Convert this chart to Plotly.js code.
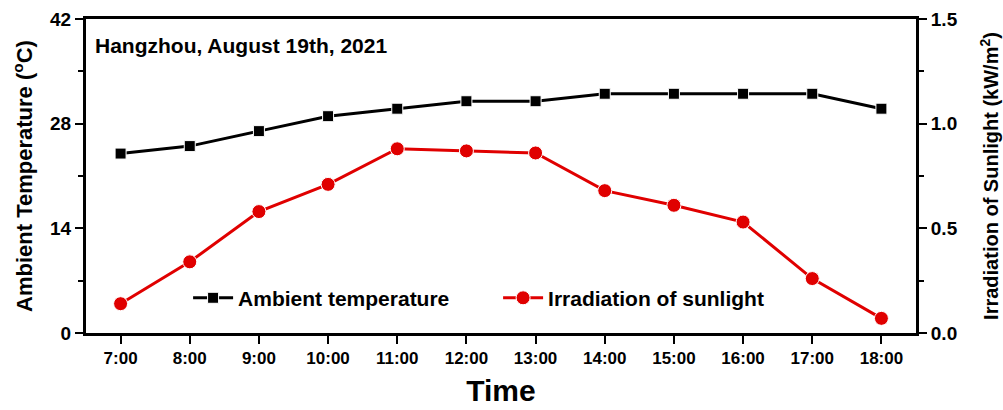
<!DOCTYPE html>
<html>
<head>
<meta charset="utf-8">
<script src="https://cdn.plot.ly/plotly-3.0.1.min.js"></script>
<style>html,body{margin:0;padding:0;background:#fff;}#chart{width:1003px;height:410px;}</style>
</head>
<body>
<div id="chart"></div>
<script>
const times = ["7:00","8:00","9:00","10:00","11:00","12:00","13:00","14:00","15:00","16:00","17:00","18:00"];
const temperature = [24, 25, 27, 29, 30, 31, 31, 32, 32, 32, 32, 30];
const irradiation = [0.14, 0.34, 0.58, 0.71, 0.88, 0.87, 0.86, 0.68, 0.61, 0.53, 0.26, 0.07];
const tempTicks = [0, 14, 28, 42];
const irrTicks = [0.0, 0.5, 1.0, 1.5];
const irrTickLabels = ["0.0", "0.5", "1.0", "1.5"];

const FONT = "Liberation Sans, Arial, sans-serif";

const traces = [
  {
    x: times, y: temperature, name: "Ambient temperature", type: "scatter", mode: "lines+markers",
    line: {color: "#000000", width: 3},
    marker: {symbol: "square", size: 11, color: "#000000", line: {color: "#ffffff", width: 1}},
    yaxis: "y"
  },
  {
    x: times, y: irradiation, name: "Irradiation of sunlight", type: "scatter", mode: "lines+markers",
    line: {color: "#e00000", width: 3},
    marker: {symbol: "circle", size: 14, color: "#e00000", line: {color: "#ffffff", width: 1}},
    yaxis: "y2"
  }
];

const layout = {
  width: 1003, height: 410,
  margin: {l: 86, r: 87, t: 19, b: 77},
  paper_bgcolor: "#ffffff", plot_bgcolor: "#ffffff",
  font: {family: FONT, color: "#000000", weight: "bold"},
  showlegend: true,
  legend: {
    orientation: "h", x: 0.123, y: 0.111, xanchor: "left", yanchor: "middle",
    bgcolor: "rgba(0,0,0,0)", borderwidth: 0,
    font: {family: FONT, size: 21, color: "#000000", weight: "bold"},
    entrywidth: 255, entrywidthmode: "pixels", itemwidth: 40
  },
  xaxis: {
    type: "category", range: [-0.5, 11.5],
    showline: true, linewidth: 3, linecolor: "#000000", mirror: true,
    ticks: "outside", ticklen: 8, tickwidth: 2, tickcolor: "#000000",
    showgrid: false, zeroline: false,
    tickfont: {family: FONT, size: 17, color: "#000000", weight: "bold"},
    title: {text: "Time", font: {family: FONT, size: 30, color: "#000000", weight: "bold"}, standoff: 13}
  },
  yaxis: {
    range: [0, 42], tickvals: tempTicks, ticktext: tempTicks.map(String),
    showline: true, linewidth: 3, linecolor: "#000000",
    ticks: "outside", ticklen: 8, tickwidth: 2, tickcolor: "#000000",
    minor: {tickvals: [7, 21, 35], ticks: "outside", ticklen: 5, tickwidth: 2, tickcolor: "#000000"},
    showgrid: false, zeroline: false,
    tickfont: {family: FONT, size: 19, color: "#000000", weight: "bold"},
    title: {text: "Ambient Temperature (<sup>o</sup>C)", font: {family: FONT, size: 22, color: "#000000", weight: "bold"}, standoff: 12}
  },
  yaxis2: {
    overlaying: "y", side: "right", range: [0, 1.5],
    tickvals: irrTicks, ticktext: irrTickLabels,
    showline: true, linewidth: 3, linecolor: "#000000",
    ticks: "outside", ticklen: 8, tickwidth: 2, tickcolor: "#000000",
    minor: {tickvals: [0.25, 0.75, 1.25], ticks: "outside", ticklen: 5, tickwidth: 2, tickcolor: "#000000"},
    showgrid: false, zeroline: false,
    tickfont: {family: FONT, size: 19, color: "#000000", weight: "bold"},
    title: {text: "Irradiation of Sunlight (kW/m<sup>2</sup>)", font: {family: FONT, size: 20, color: "#000000", weight: "bold"}, standoff: 28}
  },
  annotations: [{
    xref: "paper", yref: "paper", x: 0.009, y: 0.915, xanchor: "left", yanchor: "middle",
    text: "Hangzhou, August 19th, 2021", showarrow: false,
    font: {family: FONT, size: 21, color: "#000000", weight: "bold"}
  }]
};

Plotly.newPlot("chart", traces, layout, {displayModeBar: false, staticPlot: true});
</script>
</body>
</html>
